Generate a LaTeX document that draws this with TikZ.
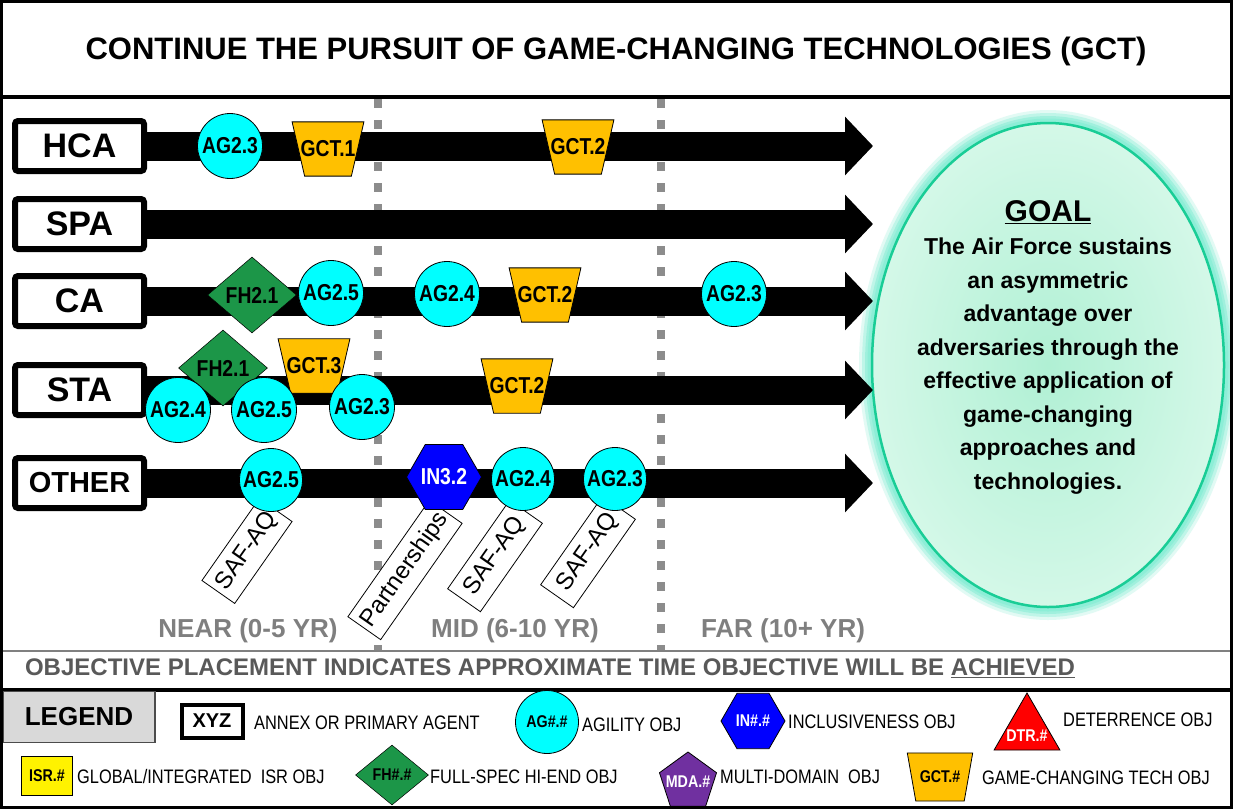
\documentclass[tikz,border=0pt]{standalone}
\usepackage{fontspec}
\setmainfont{Liberation Sans}
\newfontfamily\narrowfont[FakeStretch=0.84]{Liberation Sans}
\usetikzlibrary{shapes.geometric,arrows.meta}

\definecolor{agcyan}{RGB}{0,255,255}
\definecolor{gctgold}{RGB}{255,192,0}
\definecolor{fhgreen}{RGB}{28,150,72}
\definecolor{inblue}{RGB}{0,0,255}
\definecolor{mdapurple}{RGB}{112,48,160}
\definecolor{dashgray}{RGB}{140,140,140}
\definecolor{labelgray}{RGB}{127,127,127}
\definecolor{notegray}{RGB}{89,89,89}
\definecolor{goalline}{RGB}{25,205,150}
\definecolor{goalglow}{RGB}{140,238,215}
\definecolor{goalin}{RGB}{176,240,212}
\definecolor{goalout}{RGB}{212,248,232}

\newcommand{\zw}[1]{\makebox[0pt]{#1}}

\begin{document}
\begin{tikzpicture}
	[
		x = 1pt, y = -1pt,
		agent/.style = {draw, line width = 6pt, rounded corners = 3pt, fill = white, minimum width = 129pt, minimum height = 50pt, inner sep = 0pt, font = \bfseries\fontsize{34}{36}\selectfont},
		timeline/.style = {line width = 29pt, -{Triangle[length = 28pt, width = 57pt]}},
		timedash/.style = {dashgray, line width = 8pt, dash pattern = on 9pt off 12pt},
		objtext/.style = {font = \narrowfont\bfseries\fontsize{23}{25}\selectfont},
		agobj/.style = {objtext, circle, draw, line width = 0.8pt, fill = agcyan, minimum size = 65pt, inner sep = 0pt},
		gctobj/.style = {objtext, trapezium, trapezium angle = 77, shape border rotate = 180, draw, line width = 0.8pt, fill = gctgold, inner xsep = -4pt, inner ysep = 19pt},
		fhobj/.style = {objtext, diamond, aspect = 1.17, draw, line width = 0.5pt, fill = fhgreen, minimum width = 89pt, minimum height = 76pt, inner sep = 0pt},
		inobj/.style = {objtext, regular polygon, regular polygon sides = 6, draw, line width = 0.8pt, fill = inblue, text = white, minimum size = 75pt, inner sep = 0pt},
		ownerbox/.style = {draw, line width = 0.8pt, fill = white, rotate = 55, minimum height = 40pt, inner sep = 0pt, font = \fontsize{24}{26}\selectfont},
		period/.style = {text = labelgray, font = \bfseries\fontsize{26}{28}\selectfont},
		legtext/.style = {anchor = west, inner sep = 0pt, font = \narrowfont\fontsize{19.5}{21}\selectfont},
		legsym/.style = {font = \narrowfont\bfseries\fontsize{17}{19}\selectfont, inner sep = 0pt}
	]
	\useasboundingbox (0,0) rectangle (1233,809);
	\fill[white] (0,0) rectangle (1233,809);

	\node[font = \bfseries\fontsize{31}{33}\selectfont] (title) at (616,51) {CONTINUE THE PURSUIT OF GAME-CHANGING TECHNOLOGIES (GCT)};

	\draw[timedash] (378,99) -- (378,651);
	\draw[timedash] (661,99) -- (661,651);

	\foreach \w/\o in {26/0.25, 20/0.4, 14/0.6, 9/0.9}
		\draw[goalglow, line width = \w pt, opacity = \o] (1048,365) ellipse [x radius = 176pt, y radius = 242pt];
	\node[ellipse, draw = goalline, line width = 2.5pt, inner color = goalin, outer color = goalout, minimum width = 352pt, minimum height = 484pt] (goal) at (1048,365) {};
	\node[font = \bfseries\fontsize{30}{32}\selectfont] (goalhead) at (1048,212) {\underline{GOAL}};
	\node[align = center, inner sep = 0pt, font = \bfseries\fontsize{23}{33.5}\selectfont] (goalbody) at (1048,366)
		{The Air Force sustains\\an asymmetric\\advantage over\\adversaries through the\\effective application of\\game-changing\\approaches and\\technologies.};

	\node[agent] (hca) at (79.5,146) {HCA};
	\node[agent] (spa) at (79.5,224) {SPA};
	\node[agent] (ca) at (79.5,301) {CA};
	\node[agent] (sta) at (79.5,390) {STA};
	\node[agent, font = \bfseries\fontsize{29}{31}\selectfont] (other) at (79.5,483) {OTHER};

	\coordinate (hcaend) at (873,146);
	\coordinate (spaend) at (873,224);
	\coordinate (caend) at (873,301);
	\coordinate (staend) at (873,390);
	\coordinate (otherend) at (873,483);
	\draw[timeline] (hca.east) -- (hcaend);
	\draw[timeline] (spa.east) -- (spaend);
	\draw[timeline] (ca.east) -- (caend);
	\draw[timeline] (sta.east) -- (staend);
	\draw[timeline] (other.east) -- (otherend);

	\node[ownerbox, minimum width = 100pt] (saf1) at (247,551) {SAF-AQ};
	\node[ownerbox, minimum width = 142pt] (partner) at (405,570) {Partnerships};
	\node[ownerbox, minimum width = 108pt] (saf2) at (495,556) {SAF-AQ};
	\node[ownerbox, minimum width = 108pt] (saf3) at (588,552) {SAF-AQ};

	\node[gctobj] (hcagct1) at (328,149) {GCT.1};
	\node[gctobj] (hcagct2) at (578,147) {GCT.2};
	\node[agobj] (hcaag23) at (230,146) {AG2.3};

	\node[fhobj] (cafh21) at (252,295) {FH2.1};
	\node[agobj] (caag25) at (331,293) {AG2.5};
	\node[agobj] (caag24) at (447,294) {AG2.4};
	\node[gctobj] (cagct2) at (545,295) {GCT.2};
	\node[agobj] (caag23) at (734,294) {AG2.3};

	\node[fhobj] (stafh21) at (223,368) {FH2.1};
	\node[gctobj] (stagct3) at (314,366) {GCT.3};
	\node[gctobj] (stagct2) at (517,386) {GCT.2};
	\node[agobj] (staag24) at (178,410) {AG2.4};
	\node[agobj] (staag25) at (264,410) {AG2.5};
	\node[agobj] (staag23) at (362,407) {AG2.3};

	\node[agobj, minimum size = 63pt] (otherag25) at (271,480) {AG2.5};
	\node[inobj] (otherin32) at (444,477) {\zw{IN3.2}};
	\node[agobj, minimum size = 63pt] (otherag24) at (523,479) {AG2.4};
	\node[agobj, minimum size = 63pt] (otherag23) at (615,479) {AG2.3};

	\node[period] (near) at (248,631) {NEAR (0-5 YR)};
	\node[period] (mid) at (515,631) {MID (6-10 YR)};
	\node[period] (far) at (783,631) {FAR (10+ YR)};

	\draw[gray, line width = 1.2pt] (2,651) -- (1231,651);
	\node[text = notegray, font = \bfseries\fontsize{24}{26}\selectfont] (note) at (550,668) {OBJECTIVE PLACEMENT INDICATES APPROXIMATE TIME OBJECTIVE WILL BE \underline{ACHIEVED}};
	\draw[line width = 4pt] (2,690) -- (1231,690);

	\node[draw = gray!60!black, line width = 1.5pt, fill = gray!30, minimum width = 152pt, minimum height = 51pt, inner sep = 0pt, font = \bfseries\fontsize{26}{28}\selectfont] (legend) at (79,717) {LEGEND};
	\node[draw, line width = 4pt, minimum width = 61pt, minimum height = 33pt, inner sep = 0pt, font = \bfseries\fontsize{20}{22}\selectfont] (legxyz) at (212,721) {XYZ};
	\node[legtext] (legxyztext) at (254,723) {ANNEX OR PRIMARY AGENT};
	\node[legsym, circle, draw, line width = 0.8pt, fill = agcyan, minimum size = 63pt] (legag) at (547,722) {AG\#.\#};
	\node[legtext] (legagtext) at (582,725) {AGILITY OBJ};
	\node[legsym, regular polygon, regular polygon sides = 6, draw, line width = 0.8pt, fill = inblue, text = white, minimum size = 64pt] (legin) at (753,721) {\zw{IN\#.\#}};
	\node[legtext] (legintext) at (788,722) {INCLUSIVENESS OBJ};
	\node[regular polygon, regular polygon sides = 3, draw, line width = 0.8pt, fill = red, minimum size = 76pt, inner sep = 0pt] (legdtr) at (1027,731) {};
	\node[legsym, text = white] (legdtrlabel) at (1027,736) {DTR.\#};
	\node[legtext] (legdtrtext) at (1063,720) {DETERRENCE OBJ};

	\node[legsym, draw, line width = 0.8pt, fill = yellow, minimum width = 51pt, minimum height = 39pt] (legisr) at (47,776) {ISR.\#};
	\node[legtext] (legisrtext) at (77,777) {GLOBAL/INTEGRATED\ \ ISR OBJ};
	\node[legsym, diamond, aspect = 1.2, draw, line width = 0.5pt, fill = fhgreen, minimum width = 73pt, minimum height = 60pt] (legfh) at (392,775) {\zw{FH\#.\#}};
	\node[legtext] (legfhtext) at (430,777) {FULL-SPEC HI-END OBJ};
	\node[legsym, regular polygon, regular polygon sides = 5, draw, line width = 0.8pt, fill = mdapurple, text = white, minimum size = 60pt] (legmda) at (688,782) {\zw{MDA.\#}};
	\node[legtext] (legmdatext) at (720,777) {MULTI-DOMAIN\ \ OBJ};
	\node[legsym, trapezium, trapezium angle = 80, shape border rotate = 180, draw, line width = 0.8pt, fill = gctgold, inner xsep = 4pt, inner ysep = 18pt] (leggct) at (940,777) {GCT.\#};
	\node[legtext] (leggcttext) at (982,778) {GAME-CHANGING TECH OBJ};

	\draw[line width = 3pt] (1.5,1.5) rectangle (1231.5,807.5);
	\draw[line width = 4pt] (1.5,97) -- (1231.5,97);
\end{tikzpicture}
\end{document}
